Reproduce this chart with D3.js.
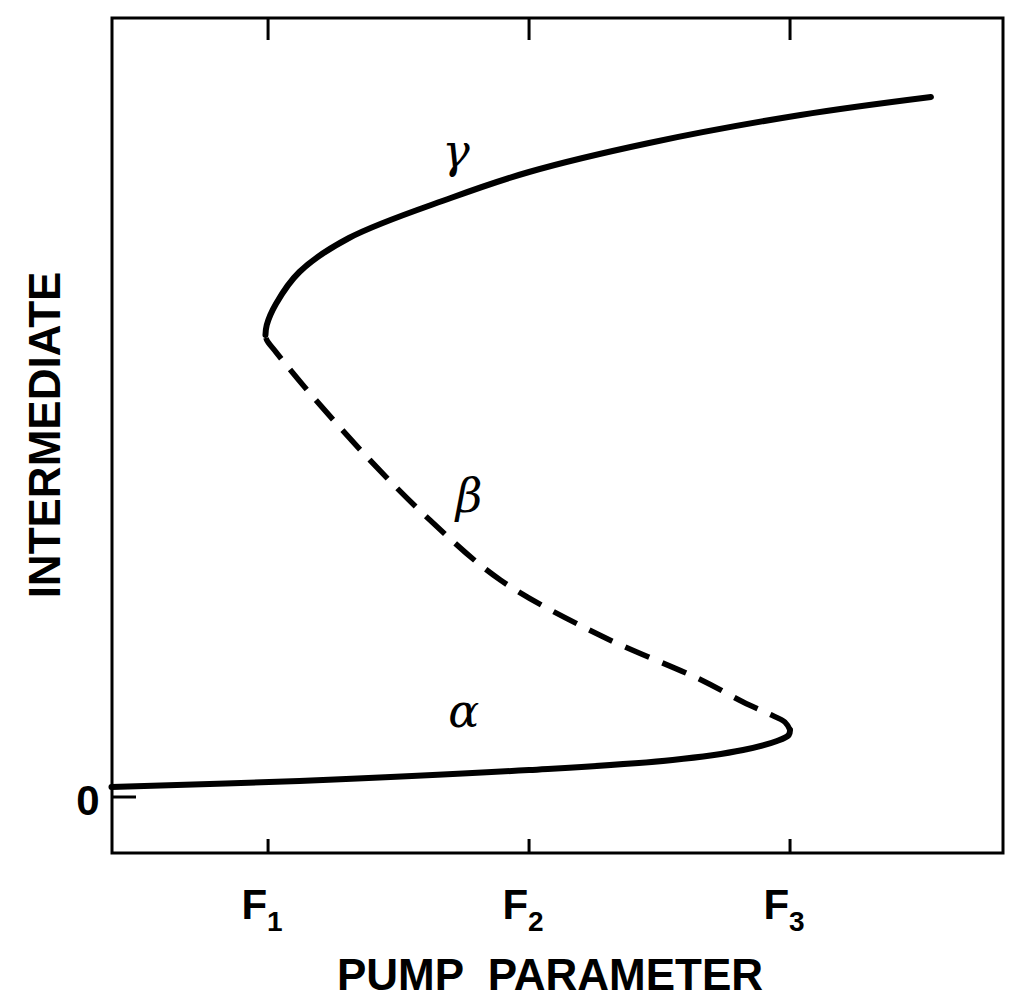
<!DOCTYPE html>
<html><head><meta charset="utf-8">
<script src="https://cdn.jsdelivr.net/npm/d3@7"></script>
<style>body{margin:0;background:#fff}</style>
</head><body>
<div id="chart"></div>
<script>
// pump parameter in units of F, intermediate in arbitrary units (0 = baseline)
const alphaBranch = [[0.40,0.10],[1.12,0.16],[2.00,0.27],[2.55,0.37],[2.82,0.47],[2.95,0.56],[2.995,0.62],[3.0,0.67]];
const betaBranch = [[3.0,0.67],[2.98,0.75],[2.92,0.83],[2.82,0.95],[2.66,1.17],[2.27,1.62],[1.89,2.17],[1.62,2.77],[1.39,3.37],[1.14,4.10],[1.03,4.45],[0.995,4.57],[0.99,4.62]];
const gammaBranch = [[0.99,4.62],[0.995,4.72],[1.03,4.93],[1.12,5.25],[1.31,5.59],[1.70,5.99],[2.00,6.25],[2.46,6.54],[3.04,6.82],[3.54,7.00]];
const xTicks = [1, 2, 3];
const xTickLabels = ["1", "2", "3"];
const branchLabels = [{t:"γ", x:1.72, y:6.3}, {t:"β", x:1.77, y:2.85}, {t:"α", x:1.75, y:0.7}];

const svgWidth = 1024, svgHeight = 1007;
const margin = {top: 18, right: 21, bottom: 154, left: 112};
const width = svgWidth - margin.left - margin.right;
const height = svgHeight - margin.top - margin.bottom;

const svg = d3.select("#chart").append("svg")
  .attr("width", svgWidth).attr("height", svgHeight)
  .style("font-family", "Liberation Sans, Arial, sans-serif");
const g = svg.append("g").attr("transform", `translate(${margin.left},${margin.top})`);

const x = d3.scaleLinear().domain([0.402, 3.816]).range([0, width]);
const y = d3.scaleLinear().domain([-0.56, 7.79]).range([height, 0]);

g.append("rect").attr("width", width).attr("height", height)
  .attr("fill", "none").attr("stroke", "#000").attr("stroke-width", 3);

// inward ticks top and bottom
xTicks.forEach(v => {
  g.append("line").attr("x1", x(v)).attr("x2", x(v)).attr("y1", 0).attr("y2", 22)
    .attr("stroke", "#000").attr("stroke-width", 3);
  g.append("line").attr("x1", x(v)).attr("x2", x(v)).attr("y1", height).attr("y2", height - 14)
    .attr("stroke", "#000").attr("stroke-width", 3);
});
g.append("line").attr("x1", 0).attr("x2", 24).attr("y1", y(0)).attr("y2", y(0))
  .attr("stroke", "#000").attr("stroke-width", 3);

const line = d3.line().x(d => x(d[0])).y(d => y(d[1])).curve(d3.curveCatmullRom);
g.append("path").datum(alphaBranch).attr("d", line).attr("fill", "none")
  .attr("stroke", "#000").attr("stroke-width", 6).attr("stroke-linecap", "round");
g.append("path").datum(gammaBranch).attr("d", line).attr("fill", "none")
  .attr("stroke", "#000").attr("stroke-width", 6).attr("stroke-linecap", "round");
g.append("path").datum(betaBranch).attr("d", line).attr("fill", "none")
  .attr("stroke", "#000").attr("stroke-width", 5.5).attr("stroke-dasharray", "26,14");

g.selectAll(".bl").data(branchLabels).enter().append("text")
  .attr("x", d => x(d.x)).attr("y", d => y(d.y))
  .attr("text-anchor", "middle").attr("font-size", 46).attr("font-style", "italic")
  .attr("font-family", "DejaVu Serif, serif").text(d => d.t);

// tick labels F with subscripts
xTicks.forEach((v, i) => {
  const t = g.append("text").attr("x", x(v) - 6).attr("y", height + 66)
    .attr("text-anchor", "middle").attr("font-size", 42).attr("font-weight", "bold");
  t.append("tspan").text("F");
  t.append("tspan").attr("font-size", 28).attr("dy", 12).text(xTickLabels[i]);
});
g.append("text").attr("x", -24).attr("y", y(0) + 18).attr("text-anchor", "middle")
  .attr("font-size", 42).attr("font-weight", "bold").text("0");

svg.append("text").attr("x", 550).attr("y", 990).attr("text-anchor", "middle")
  .attr("font-size", 44).attr("font-weight", "bold").attr("xml:space", "preserve")
  .text("PUMP  PARAMETER");
svg.append("text").attr("transform", "translate(60,435) rotate(-90)")
  .attr("text-anchor", "middle").attr("font-size", 44).attr("font-weight", "bold")
  .text("INTERMEDIATE");
</script>
</body></html>
